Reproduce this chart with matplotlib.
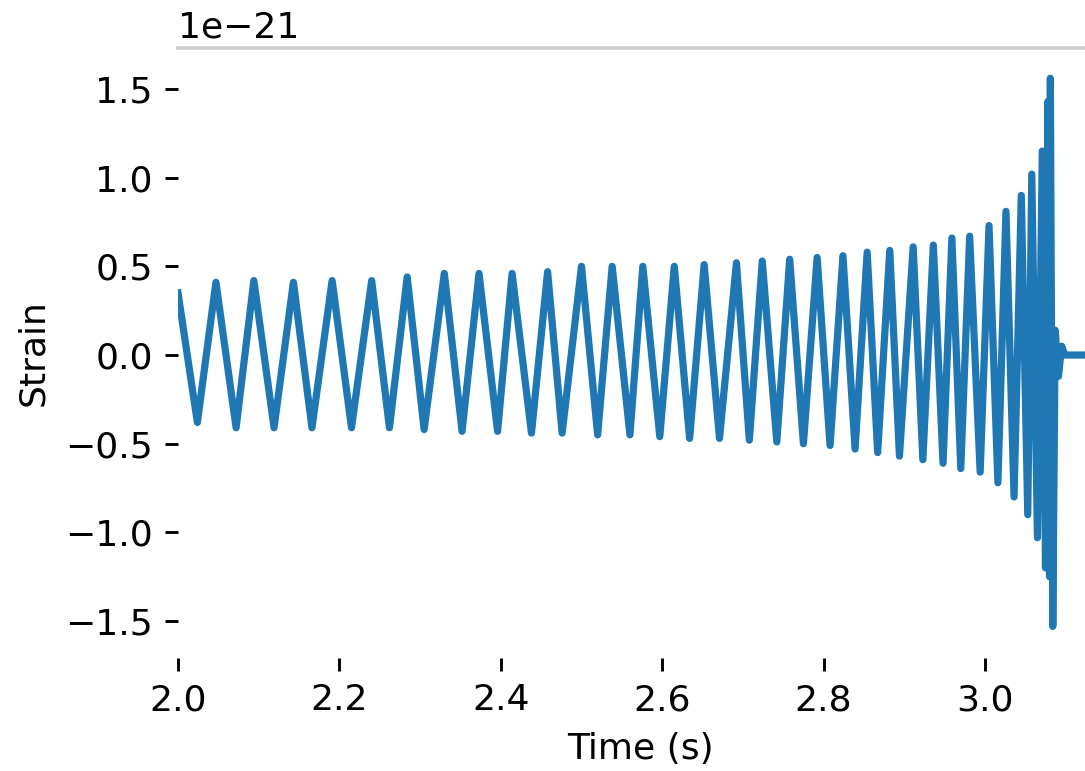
import matplotlib
matplotlib.use("Agg")
import matplotlib.pyplot as plt
import numpy as np

# Strain waveform: successive crests / troughs (time in s, strain in units of 1e-21)
t_pts = [2.000, 2.024, 2.047, 2.072, 2.094, 2.119, 2.143, 2.166, 2.191, 2.215,
         2.240, 2.262, 2.284, 2.305, 2.330, 2.352, 2.373, 2.396, 2.414, 2.438,
         2.458, 2.476, 2.500, 2.520, 2.538, 2.560, 2.576, 2.597, 2.615, 2.634,
         2.652, 2.671, 2.692, 2.708, 2.724, 2.742, 2.758, 2.775, 2.792, 2.808,
         2.824, 2.839, 2.854, 2.867, 2.882, 2.894, 2.911, 2.923, 2.936, 2.948,
         2.959, 2.970, 2.981, 2.994, 3.005, 3.016, 3.026, 3.036, 3.045, 3.053,
         3.058, 3.065, 3.071, 3.075, 3.078, 3.080, 3.081, 3.084, 3.087, 3.091,
         3.095, 3.099, 3.145]
h_pts = [0.35, -0.38, 0.41, -0.41, 0.42, -0.41, 0.41, -0.41, 0.42, -0.41,
         0.42, -0.41, 0.44, -0.42, 0.46, -0.43, 0.46, -0.43, 0.46, -0.44,
         0.47, -0.44, 0.50, -0.45, 0.50, -0.45, 0.50, -0.46, 0.50, -0.47,
         0.51, -0.47, 0.52, -0.48, 0.53, -0.49, 0.54, -0.50, 0.55, -0.51,
         0.56, -0.53, 0.58, -0.55, 0.59, -0.57, 0.61, -0.59, 0.62, -0.61,
         0.66, -0.64, 0.67, -0.66, 0.73, -0.72, 0.81, -0.80, 0.90, -0.90,
         1.02, -1.03, 1.15, -1.20, 1.43, -1.25, 1.56, -1.53, 0.14, -0.12,
         0.05, 0.0, 0.0]

x_ticks = [2.0, 2.2, 2.4, 2.6, 2.8, 3.0]
y_ticks = [-1.5, -1.0, -0.5, 0.0, 0.5, 1.0, 1.5]

DPI = 260
fig = plt.figure(figsize=(1085 / DPI, 771 / DPI), dpi=DPI)
ax = fig.add_axes([178 / 1085, 1 - 658 / 771, (1102 - 178) / 1085, (658 - 48) / 771])

t = np.array(t_pts)
h = np.array(h_pts) * 1e-21
ax.plot(t, h, color="#1f77b4", lw=2.0, solid_joinstyle="round")

ax.set_xlim(2.0, 3.145)
ax.set_ylim(-1.708e-21, 1.731e-21)
ax.set_xticks(x_ticks)
ax.set_yticks([v * 1e-21 for v in y_ticks])

for s in ["left", "right", "bottom"]:
    ax.spines[s].set_visible(False)
ax.spines["top"].set_color("#cccccc")
ax.spines["top"].set_linewidth(1.0)

ax.set_xlabel("Time (s)")
ax.set_ylabel("Strain")

fig.savefig("out.png", dpi=DPI)
